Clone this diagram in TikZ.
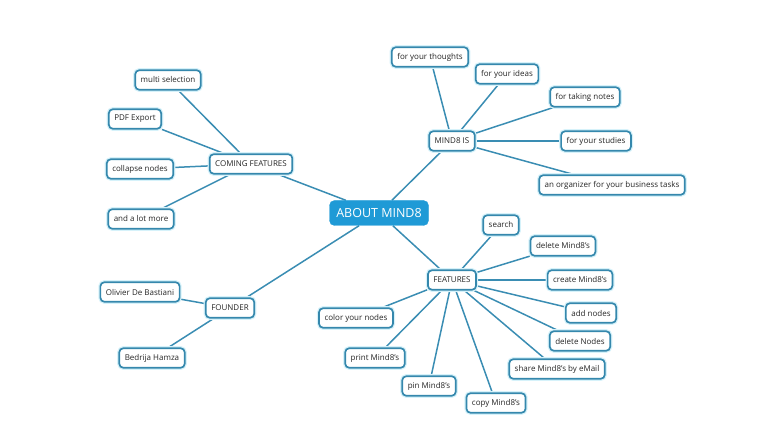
\documentclass[tikz,border=0pt]{standalone}
\usepackage{fontspec}
\setmainfont{Open Sans}
\usetikzlibrary{backgrounds}
\definecolor{edgec}{HTML}{3A8DB3}
\definecolor{bordc}{HTML}{3588AD}
\definecolor{glowc}{HTML}{D6F2FA}
\definecolor{rootc}{HTML}{1F9AD6}
\tikzset{
  leaf/.style={draw=bordc, line width=1.7pt, fill=white, rounded corners=4pt,
    font=\fontsize{8}{9.5}\selectfont, text=black!85, inner xsep=5.5pt, minimum height=19.5pt, inner ysep=2pt,
    preaction={draw=glowc, line width=4.2pt}},
  rootbox/.style={fill=rootc, draw=rootc, rounded corners=5pt, text=white,
    font=\fontsize{12.5}{14}\selectfont, minimum width=99pt, minimum height=25pt, inner xsep=4pt},
  link/.style={draw=edgec, line width=1.5pt}
}
\begin{document}
\begin{tikzpicture}[x=1pt,y=-1pt]
\useasboundingbox (0,0) rectangle (759,427);
\node[rootbox] (root) at (379,213) {ABOUT MIND8};
% coming features
\node[leaf] (cf) at (251,164) {COMING FEATURES};
\node[leaf] (ms) at (168,80) {multi selection};
\node[leaf] (pdf) at (135,119) {PDF Export};
\node[leaf] (cn) at (140,169) {collapse nodes};
\node[leaf] (alm) at (141,219) {and a lot more};
% mind8 is
\node[leaf] (mi) at (452,141) {MIND8 IS};
\node[leaf] (fyt) at (430,57) {for your thoughts};
\node[leaf] (fyi) at (507,74) {for your ideas};
\node[leaf] (ftn) at (585,97) {for taking notes};
\node[leaf] (fys) at (596,141) {for your studies};
\node[leaf] (org) at (612,185) {an organizer for your business tasks};
% features
\node[leaf] (fe) at (452,280) {FEATURES};
\node[leaf] (se) at (501,225) {search};
\node[leaf] (dm) at (563,246) {delete Mind8's};
\node[leaf] (cm) at (580,280) {create Mind8's};
\node[leaf] (an) at (591,313) {add nodes};
\node[leaf] (dn) at (580,341) {delete Nodes};
\node[leaf] (sh) at (557,369) {share Mind8's by eMail};
\node[leaf] (co) at (496,403) {copy Mind8's};
\node[leaf] (pi) at (429,386) {pin Mind8's};
\node[leaf] (pr) at (375,358) {print Mind8's};
\node[leaf] (cy) at (356,318) {color your nodes};
% founder
\node[leaf] (fo) at (230,308) {FOUNDER};
\node[leaf] (ol) at (140,292) {Olivier De Bastiani};
\node[leaf] (be) at (152,358) {Bedrija Hamza};
\begin{scope}[on background layer]
\draw[link] (root) -- (cf);
\draw[link] (root) -- (mi);
\draw[link] (root) -- (fe);
\draw[link] (root) -- (fo);
\foreach \t in {ms,pdf,cn,alm} \draw[link] (cf) -- (\t);
\foreach \t in {fyt,fyi,ftn,fys,org} \draw[link] (mi) -- (\t);
\foreach \t in {se,dm,cm,an,dn,sh,co,pi,pr,cy} \draw[link] (fe) -- (\t);
\foreach \t in {ol,be} \draw[link] (fo) -- (\t);
\end{scope}
\end{tikzpicture}
\end{document}
